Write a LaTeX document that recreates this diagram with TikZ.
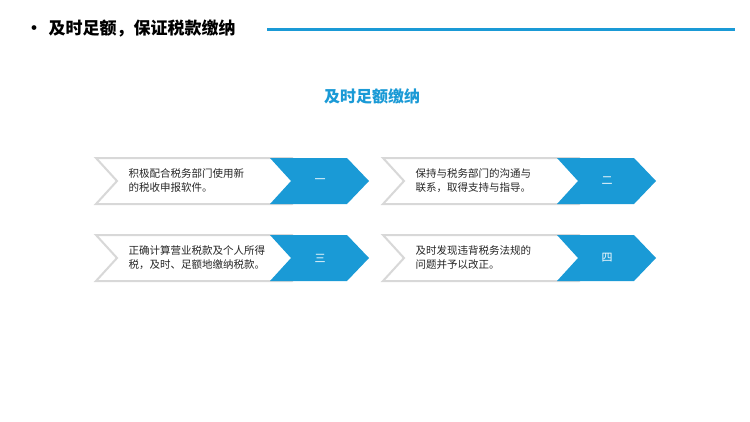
\documentclass[tikz,border=0pt]{standalone}
\usepackage{fontspec}
\setmainfont{Noto Sans CJK SC}
\newfontfamily\cjkb{Noto Sans CJK SC Bold}
\definecolor{tblue}{HTML}{1A9AD6}
\definecolor{tgray}{HTML}{D8D8D8}
\begin{document}
\begin{tikzpicture}[x=1pt,y=-1pt,
  txt/.style={font=\fontsize{10.5}{14}\selectfont,align=left,anchor=west,text=black!85},
  num/.style={font=\fontsize{11}{13}\selectfont,text=white}]
\useasboundingbox[fill=white] (0,0) rectangle (750,421);
\node[font=\fontsize{17}{20}\selectfont\bfseries,anchor=west] (t) at (22,29) {•\hspace{6pt}及时足额，保证税款缴纳};
\coordinate (l1) at (267,29); \coordinate (l2) at (735,29);
\draw[tblue,line width=3] (l1) -- (l2);
\node[font=\fontsize{16}{20}\selectfont\bfseries,text=tblue] (sub) at (372,96) {及时足额缴纳};
\foreach \dx/\dy/\n/\a/\b [count=\i] in {0/0/一/积极配合税务部门使用新/的税收申报软件。,
  287/0/二/保持与税务部门的沟通与/联系，取得支持与指导。,
  0/77/三/正确计算营业税款及个人所得/税，及时、足额地缴纳税款。,
  287/77/四/及时发现违背税务法规的/问题并予以改正。}{
  \begin{scope}[shift={(\dx,\dy)}]
  \draw[tgray,line width=2,fill=white] (96,158) -- (292,158) -- (312,181) -- (292,204) -- (96,204) -- (117,181) -- cycle;
  \fill[tblue] (270,158) -- (347,158) -- (369,181) -- (347,204) -- (270,204) -- (291,181) -- cycle;
  \node[txt] (w\i) at (125,181) {\a\\\b};
  \node[num] (n\i) at (320,181) {\n};
  \end{scope}}
\end{tikzpicture}
\end{document}
